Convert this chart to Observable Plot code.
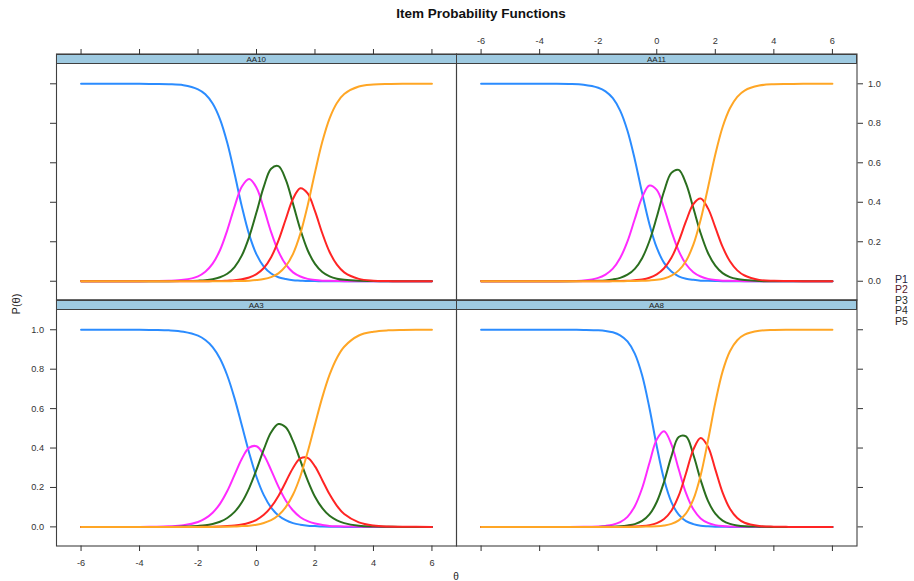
<!DOCTYPE html>
<html>
<head>
<meta charset="utf-8">
<script src="https://cdn.jsdelivr.net/npm/d3@7"></script>
<script src="https://cdn.jsdelivr.net/npm/@observablehq/plot@0.6"></script>
<style>
  body { margin: 0; background: #fff; font-family: "Liberation Sans", Arial, sans-serif; }
  #fig { position: relative; width: 914px; height: 581px; overflow: hidden; background: #fff; }
  #fig svg { position: absolute; left: 0; top: 0; }
  .strip { position: absolute; box-sizing: border-box; background: #9ecae1; border: 1px solid #404040;
           font-size: 8px; color: #222; text-align: center; line-height: 9px; }
  .title { position: absolute; left: 481px; top: 6px; transform: translateX(-50%); font-weight: bold;
           font-size: 13.5px; color: #111; white-space: nowrap; }
  .ylab { position: absolute; left: 15.5px; top: 304px; transform: translate(-50%, -50%) rotate(-90deg);
          font-size: 11px; color: #222; white-space: nowrap; }
  .xlab { position: absolute; left: 456px; top: 576px; transform: translate(-50%, -50%); font-size: 10px; color: #222; }
  .legend { position: absolute; left: 895px; top: 273.5px; font-size: 10.5px; line-height: 10.5px; }
</style>
</head>
<body>
<div id="fig"></div>
<script>
// ---- data ----
const theta = [-6, -5, -4, -3.5, -3, -2.5, -2, -1.75, -1.5, -1.25, -1, -0.75, -0.5, -0.25, 0, 0.25, 0.5, 0.75, 1, 1.25, 1.5, 1.75, 2, 2.25, 2.5, 2.75, 3, 3.5, 4, 4.5, 5, 6];
const categories = ["P1", "P2", "P3", "P4", "P5"];
const panelNames = ["AA10", "AA11", "AA3", "AA8"];
const xTicks = [-6, -4, -2, 0, 2, 4, 6];
const yTicks = [0, 0.2, 0.4, 0.6, 0.8, 1.0];

const AA10 = [
  [1,1,1,0.999,0.998,0.993,0.972,0.947,0.900,0.821,0.701,0.544,0.378,0.236,0.136,0.074,0.039,0.020,0.011,0.005,0.003,0.001,0.001,0,0,0,0,0,0,0,0,0],
  [0,0,0,0.001,0.002,0.007,0.025,0.048,0.089,0.157,0.258,0.378,0.480,0.518,0.474,0.369,0.249,0.151,0.085,0.045,0.024,0.012,0.006,0.003,0.002,0.001,0,0,0,0,0,0],
  [0,0,0,0,0,0.001,0.003,0.005,0.010,0.020,0.038,0.072,0.131,0.225,0.349,0.479,0.570,0.583,0.515,0.392,0.262,0.157,0.088,0.047,0.025,0.013,0.007,0.002,0.001,0,0,0],
  [0,0,0,0,0,0,0,0,0.001,0.001,0.003,0.005,0.010,0.019,0.036,0.067,0.122,0.206,0.314,0.418,0.471,0.445,0.355,0.243,0.148,0.084,0.045,0.012,0.003,0.001,0,0],
  [0,0,0,0,0,0,0,0,0,0,0,0.001,0.001,0.003,0.006,0.011,0.021,0.040,0.076,0.139,0.241,0.384,0.551,0.706,0.825,0.903,0.948,0.986,0.996,0.999,1,1]
];
const AA11 = [
  [1,1,1,1,0.999,0.995,0.980,0.962,0.927,0.864,0.762,0.617,0.447,0.289,0.170,0.093,0.049,0.025,0.013,0.007,0.003,0.002,0.001,0,0,0,0,0,0,0,0,0],
  [0,0,0,0,0.001,0.004,0.017,0.034,0.064,0.118,0.202,0.315,0.425,0.485,0.463,0.371,0.254,0.154,0.086,0.046,0.024,0.012,0.006,0.003,0.002,0.001,0,0,0,0,0,0],
  [0,0,0,0,0,0.001,0.002,0.004,0.009,0.017,0.033,0.063,0.117,0.204,0.325,0.456,0.549,0.564,0.494,0.371,0.243,0.143,0.079,0.041,0.021,0.011,0.006,0.001,0,0,0,0],
  [0,0,0,0,0,0,0,0,0.001,0.001,0.002,0.005,0.009,0.018,0.035,0.066,0.119,0.202,0.304,0.391,0.419,0.369,0.273,0.174,0.101,0.055,0.029,0.007,0.002,0.001,0,0],
  [0,0,0,0,0,0,0,0,0,0,0.001,0.001,0.002,0.004,0.007,0.014,0.028,0.055,0.103,0.185,0.312,0.474,0.642,0.781,0.876,0.934,0.966,0.991,0.998,0.999,1,1]
];
const AA3 = [
  [1,1,1,0.999,0.997,0.990,0.970,0.948,0.912,0.854,0.768,0.652,0.514,0.375,0.253,0.161,0.098,0.058,0.034,0.019,0.011,0.006,0.004,0.002,0.001,0.001,0,0,0,0,0,0],
  [0,0,0,0.001,0.003,0.008,0.025,0.043,0.072,0.117,0.182,0.264,0.346,0.402,0.409,0.365,0.288,0.204,0.134,0.083,0.049,0.029,0.017,0.010,0.005,0.003,0.002,0.001,0,0,0,0],
  [0,0,0,0,0,0.002,0.005,0.008,0.015,0.026,0.045,0.076,0.125,0.197,0.290,0.393,0.480,0.522,0.505,0.435,0.336,0.236,0.153,0.095,0.056,0.033,0.019,0.006,0.002,0.001,0,0],
  [0,0,0,0,0,0,0,0.001,0.001,0.002,0.004,0.007,0.012,0.021,0.036,0.061,0.101,0.157,0.228,0.299,0.347,0.350,0.307,0.237,0.165,0.107,0.065,0.023,0.007,0.002,0.001,0],
  [0,0,0,0,0,0,0,0,0,0.001,0.001,0.002,0.004,0.006,0.011,0.020,0.034,0.059,0.100,0.164,0.257,0.380,0.520,0.657,0.772,0.857,0.914,0.971,0.990,0.997,0.999,1]
];
const AA8 = [
  [1,1,1,1,1,0.999,0.997,0.994,0.987,0.972,0.941,0.879,0.769,0.603,0.409,0.240,0.126,0.062,0.029,0.014,0.006,0.003,0.001,0.001,0,0,0,0,0,0,0,0],
  [0,0,0,0,0,0.001,0.002,0.005,0.011,0.024,0.051,0.105,0.196,0.324,0.443,0.485,0.419,0.292,0.171,0.089,0.043,0.020,0.009,0.004,0.002,0.001,0.001,0,0,0,0,0],
  [0,0,0,0,0,0,0,0.001,0.001,0.003,0.007,0.014,0.030,0.063,0.126,0.229,0.358,0.456,0.459,0.366,0.238,0.132,0.067,0.032,0.015,0.007,0.003,0.001,0,0,0,0],
  [0,0,0,0,0,0,0,0,0,0,0.001,0.002,0.004,0.009,0.019,0.040,0.082,0.158,0.272,0.392,0.451,0.407,0.292,0.174,0.092,0.045,0.021,0.005,0.001,0,0,0],
  [0,0,0,0,0,0,0,0,0,0,0,0,0.001,0.002,0.003,0.007,0.015,0.033,0.069,0.139,0.262,0.438,0.630,0.789,0.891,0.947,0.975,0.995,0.999,1,1,1]
];

// ---- styling / layout ----
const lineColors = ["#2b8cff", "#ff2bff", "#2a6e1e", "#ff2424", "#ffa625"];
const legendColors = ["#1f2440", "#5a1a2a", "#1f2e1f", "#2a2a2a", "#2f2a1f"];
const ink = "#333";
const frameColor = "#404040";
const seriesByPanel = {AA10, AA11, AA3, AA8};
const panelLayout = [
  {name: "AA10", L: 56,  R: 456,   T: 53.5,  B: 299.5, top: "ticks",  bottom: null,     left: "ticks",  right: null},
  {name: "AA11", L: 456, R: 856.5, T: 53.5,  B: 299.5, top: "labels", bottom: null,     left: null,     right: "labels"},
  {name: "AA3",  L: 56,  R: 456,   T: 299.5, B: 545.5, top: null,     bottom: "labels", left: "labels", right: null},
  {name: "AA8",  L: 456, R: 856.5, T: 299.5, B: 545.5, top: null,     bottom: "ticks",  left: null,     right: "ticks"}
];
const W = 914, H = 581;
const fig = document.getElementById("fig");
const fmtX = d => String(d);
const fmtY = d => d.toFixed(1);

for (const p of panelLayout) {
  const series = seriesByPanel[p.name];
  const data = series.flatMap((vals, k) => vals.map((v, i) => ({theta: theta[i], prob: v, cat: categories[k]})));
  const marks = [Plot.frame({stroke: frameColor, strokeWidth: 1.1})];
  marks.push(Plot.line(data, {x: "theta", y: "prob", z: "cat", stroke: "cat", curve: "catmull-rom", strokeWidth: 2}));
  const axisCommon = {label: null, stroke: ink, tickSize: 5.5};
  if (p.top) marks.push(Plot.axisX({...axisCommon, anchor: "top", ticks: xTicks, tickFormat: fmtX, tickPadding: 5, fill: p.top === "labels" ? ink : "none"}));
  if (p.bottom) marks.push(Plot.axisX({...axisCommon, anchor: "bottom", ticks: xTicks, tickFormat: fmtX, tickPadding: 7.5, fill: p.bottom === "labels" ? ink : "none"}));
  if (p.left) marks.push(Plot.axisY({...axisCommon, anchor: "left", ticks: yTicks, tickFormat: fmtY, tickSize: 6, tickPadding: 6.5, fill: p.left === "labels" ? ink : "none"}));
  if (p.right) marks.push(Plot.axisY({...axisCommon, anchor: "right", ticks: yTicks, tickFormat: fmtY, tickPadding: 5.5, fill: p.right === "labels" ? ink : "none"}));
  const yDomain = p.T < 100 ? [-0.095, 1.151] : [-0.097, 1.151];
  const svg = Plot.plot({
    width: W, height: H,
    marginLeft: p.L, marginRight: W - p.R, marginTop: p.T, marginBottom: H - p.B,
    x: {domain: [-6.84, 6.84]},
    y: {domain: yDomain},
    color: {domain: categories, range: lineColors},
    style: "background: transparent; overflow: visible; font-family: 'Liberation Sans', Arial, sans-serif; font-size: 9.2px; position: absolute; left: 0; top: 0;",
    marks
  });
  fig.appendChild(svg);
}

// strips (panel headers)
for (const p of panelLayout) {
  const s = document.createElement("div");
  s.className = "strip";
  s.style.left = p.L + "px";
  s.style.top = p.T + "px";
  s.style.width = (p.R - p.L + 0.5) + "px";
  s.style.height = "10.5px";
  s.textContent = p.name;
  fig.appendChild(s);
}

const title = document.createElement("div");
title.className = "title";
title.textContent = "Item Probability Functions";
fig.appendChild(title);

const ylab = document.createElement("div");
ylab.className = "ylab";
ylab.textContent = "P(\u03B8)";
fig.appendChild(ylab);

const xlab = document.createElement("div");
xlab.className = "xlab";
xlab.textContent = "\u03B8";
fig.appendChild(xlab);

const legend = document.createElement("div");
legend.className = "legend";
categories.forEach((c, i) => {
  const d = document.createElement("div");
  d.textContent = c;
  d.style.color = legendColors[i];
  legend.appendChild(d);
});
fig.appendChild(legend);
</script>
</body>
</html>
